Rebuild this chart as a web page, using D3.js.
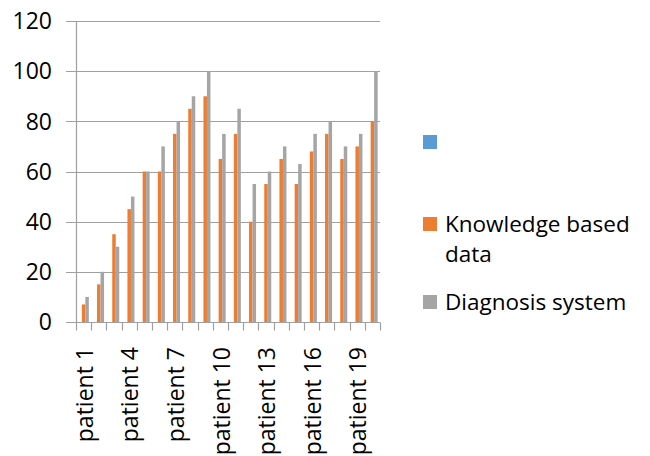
<!DOCTYPE html>
<html>
<head>
<meta charset="utf-8">
<script src="https://cdn.jsdelivr.net/npm/d3@7"></script>
<style>
  body { margin: 0; background: #fff; }
  svg text { font-family: "Open Sans", sans-serif; fill: #000; }
</style>
</head>
<body>
<div class="chart"></div>
<script>
var width = 650;
var height = 456;
var margin = { top: 21, left: 76, right: 270, bottom: 134 };

// data
var patients = d3.range(1, 21).map(function(i) { return "patient " + i; });
var seriesNames = ["", "Knowledge based data", "Diagnosis system"];
var seriesColors = ["#5B9BD5", "#ED7D31", "#A5A5A5"];
var blankSeries = patients.map(function() { return null; });
var knowledgeBased = [7, 15, 35, 45, 60, 60, 75, 85, 90, 65, 75, 40, 55, 65, 55, 68, 75, 65, 70, 80];
var diagnosisSystem = [10, 20, 30, 50, 60, 70, 80, 90, 100, 75, 85, 55, 60, 70, 63, 75, 80, 70, 75, 100];
var yTicks = [0, 20, 40, 60, 80, 100, 120];
var labelEvery = 3;

var allSeries = [blankSeries, knowledgeBased, diagnosisSystem];

var svg = d3.select(".chart")
    .append("svg")
    .attr("width", width)
    .attr("height", height);

var xScale = d3.scaleBand()
    .domain(patients)
    .range([margin.left, width - margin.right])
    .padding(0);

var seriesScale = d3.scaleBand()
    .domain(d3.range(seriesNames.length))
    .range([0, xScale.bandwidth()])
    .paddingInner(0)
    .paddingOuter(0.67);

var yScale = d3.scaleLinear()
    .domain([0, 120])
    .range([height - margin.bottom, margin.top]);

// gridlines + left ticks
svg.append("g")
    .selectAll("line")
    .data(yTicks)
    .enter()
    .append("line")
    .attr("x1", margin.left - 10)
    .attr("x2", width - margin.right)
    .attr("y1", function(d) { return Math.round(yScale(d)) + 0.5; })
    .attr("y2", function(d) { return Math.round(yScale(d)) + 0.5; })
    .attr("stroke", "#a0a0a0")
    .attr("stroke-width", 1.2);

svg.append("g")
    .selectAll("text")
    .data(yTicks)
    .enter()
    .append("text")
    .attr("x", 52)
    .attr("y", function(d) { return yScale(d); })
    .attr("dy", "0.36em")
    .attr("text-anchor", "end")
    .style("font-size", "23px")
    .text(function(d) { return d; });

// bars
allSeries.forEach(function(values, s) {
    svg.append("g")
        .selectAll("rect")
        .data(values.map(function(v, i) { return { p: patients[i], v: v }; })
            .filter(function(d) { return d.v != null; }))
        .enter()
        .append("rect")
        .attr("x", function(d) { return xScale(d.p) + seriesScale(s); })
        .attr("width", seriesScale.bandwidth())
        .attr("y", function(d) { return yScale(d.v); })
        .attr("height", function(d) { return yScale(0) - yScale(d.v); })
        .attr("fill", seriesColors[s]);
});

// axis lines
var y0 = Math.round(yScale(0)) + 0.5;
svg.append("line")
    .attr("x1", margin.left + 0.5).attr("x2", margin.left + 0.5)
    .attr("y1", margin.top).attr("y2", y0)
    .attr("stroke", "#a0a0a0").attr("stroke-width", 1.2);

var boundaries = patients.map(function(p) { return xScale(p); }).concat([width - margin.right]);
svg.append("g")
    .selectAll("line")
    .data(boundaries)
    .enter()
    .append("line")
    .attr("x1", function(d) { return Math.round(d) + 0.5; })
    .attr("x2", function(d) { return Math.round(d) + 0.5; })
    .attr("y1", y0)
    .attr("y2", y0 + 8)
    .attr("stroke", "#a0a0a0")
    .attr("stroke-width", 1.2);

// x labels, every 3rd patient
svg.append("g")
    .selectAll("text")
    .data(patients.filter(function(p, i) { return i % labelEvery === 0; }))
    .enter()
    .append("text")
    .attr("transform", function(d) {
        return "translate(" + (xScale(d) + xScale.bandwidth() / 2 + 1) + "," + 347 + ") rotate(-90)";
    })
    .attr("dy", "0.36em")
    .attr("text-anchor", "end")
    .style("font-size", "23px")
    .text(function(d) { return d; });

// legend
var legendItems = [
    { color: seriesColors[0], y: 135, lines: [] },
    { color: seriesColors[1], y: 217, lines: ["Knowledge based", "data"] },
    { color: seriesColors[2], y: 295, lines: ["Diagnosis system"] }
];

var legend = svg.append("g");
legendItems.forEach(function(item) {
    legend.append("rect")
        .attr("x", 423)
        .attr("y", item.y)
        .attr("width", 14)
        .attr("height", 14)
        .attr("fill", item.color);
    item.lines.forEach(function(line, j) {
        legend.append("text")
            .attr("x", 445)
            .attr("y", item.y + 15 + j * 30)
            .style("font-size", "22.5px")
            .text(line);
    });
});
</script>
</body>
</html>
